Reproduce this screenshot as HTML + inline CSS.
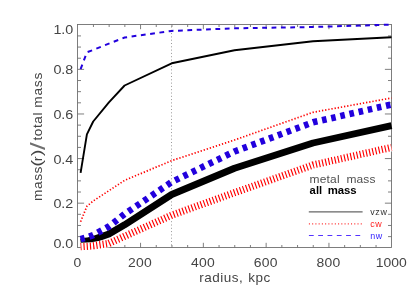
<!DOCTYPE html>
<html><head><meta charset="utf-8"><title>mass profile</title>
<style>html,body{margin:0;padding:0;background:#fff}svg{display:block;will-change:transform}text{font-family:"Liberation Sans",sans-serif}</style>
</head><body>
<svg width="415" height="297" viewBox="0 0 415 297">
<rect width="415" height="297" fill="#fff"/>
<line x1="171.5" y1="26.5" x2="171.5" y2="247.5" stroke="#999" stroke-width="1" stroke-dasharray="1 2.3"/>
<g stroke="#707070" stroke-width="0.9" fill="none">
<rect x="77.5" y="24.5" width="314.0" height="223.0"/>
<path d="M93.45 247.5v-2.5M93.45 24.5v2.5M109.15 247.5v-2.5M109.15 24.5v2.5M124.85 247.5v-2.5M124.85 24.5v2.5M140.55 247.5v-4.7M140.55 24.5v4.7M156.25 247.5v-2.5M156.25 24.5v2.5M171.95 247.5v-2.5M171.95 24.5v2.5M187.65 247.5v-2.5M187.65 24.5v2.5M203.35 247.5v-4.7M203.35 24.5v4.7M219.05 247.5v-2.5M219.05 24.5v2.5M234.75 247.5v-2.5M234.75 24.5v2.5M250.45 247.5v-2.5M250.45 24.5v2.5M266.15 247.5v-4.7M266.15 24.5v4.7M281.85 247.5v-2.5M281.85 24.5v2.5M297.55 247.5v-2.5M297.55 24.5v2.5M313.25 247.5v-2.5M313.25 24.5v2.5M328.95 247.5v-4.7M328.95 24.5v4.7M344.65 247.5v-2.5M344.65 24.5v2.5M360.35 247.5v-2.5M360.35 24.5v2.5M376.05 247.5v-2.5M376.05 24.5v2.5M77.5 236.62h3.5M391.5 236.62h-3.5M77.5 225.47h3.5M391.5 225.47h-3.5M77.5 214.32h3.5M391.5 214.32h-3.5M77.5 203.17h6.6M391.5 203.17h-6.6M77.5 192.02h3.5M391.5 192.02h-3.5M77.5 180.87h3.5M391.5 180.87h-3.5M77.5 169.72h3.5M391.5 169.72h-3.5M77.5 158.57h6.6M391.5 158.57h-6.6M77.5 147.42h3.5M391.5 147.42h-3.5M77.5 136.27h3.5M391.5 136.27h-3.5M77.5 125.12h3.5M391.5 125.12h-3.5M77.5 113.97h6.6M391.5 113.97h-6.6M77.5 102.82h3.5M391.5 102.82h-3.5M77.5 91.67h3.5M391.5 91.67h-3.5M77.5 80.52h3.5M391.5 80.52h-3.5M77.5 69.37h6.6M391.5 69.37h-6.6M77.5 58.22h3.5M391.5 58.22h-3.5M77.5 47.07h3.5M391.5 47.07h-3.5M77.5 35.92h3.5M391.5 35.92h-3.5"/>
</g>
<g fill="none" stroke-linejoin="round">
<path d="M80.6 221.7 L86.9 206.2 L93.2 201.0 L108.9 190.7 L124.6 180.4 L171.7 160.6 L234.5 140.0 L313.0 112.3 L391.5 98.0" stroke="#f00" stroke-width="1.7" stroke-dasharray="1.3 1.9"/>
<path d="M80.6 172.8 L86.9 134.4 L93.2 121.5 L108.9 102.3 L124.6 85.5 L171.7 63.3 L234.5 50.3 L313.0 41.3 L391.5 37.2" stroke="#000" stroke-width="1.9"/>
<path d="M80.6 69.1 L86.9 52.3 L93.2 49.9 L108.9 43.6 L124.6 37.5 L171.7 30.9 L234.5 28.3 L313.0 27.0 L391.5 24.6" stroke="#2200dd" stroke-width="2" stroke-dasharray="4.8 4.56"/>
<path d="M80.6 241.8 L86.9 241.0 L93.2 239.5 L108.9 234.0 L124.6 224.8 L171.7 194.5 L234.5 168.2 L313.0 143.0 L391.5 125.6" stroke="#000" stroke-width="6.9"/>
<path d="M80.6 246.7 L86.9 246.3 L93.2 245.8 L108.9 243.4 L124.6 236.3 L171.7 215.2 L234.5 192.7 L313.0 165.0 L391.5 147.4" stroke="#fff" stroke-width="7.8"/>
<path d="M80.6 246.7 L86.9 246.3 L93.2 245.8 L108.9 243.4 L124.6 236.3 L171.7 215.2 L234.5 192.7 L313.0 165.0 L391.5 147.4" stroke="#f00" stroke-width="7.2" stroke-dasharray="1.15 2.062" stroke-dashoffset="0.3"/>
<path d="M80.6 239.2 L86.9 237.4 L93.2 235.2 L108.9 226.5 L124.6 214.0 L171.7 182.0 L234.5 151.5 L313.0 122.3 L391.5 104.5" stroke="#2200dd" stroke-width="6.6" stroke-dasharray="4.6 4.76" stroke-dashoffset="0.4"/>
</g>
<text transform="translate(73.4 266.5) scale(1.040 1)" font-size="13.4" fill="#444" textLength="7.31" lengthAdjust="spacing">0</text>
<text transform="translate(128.1 266.5) scale(1.040 1)" font-size="13.4" fill="#444" textLength="22.88" lengthAdjust="spacing">200</text>
<text transform="translate(190.9 266.5) scale(1.040 1)" font-size="13.4" fill="#444" textLength="22.88" lengthAdjust="spacing">400</text>
<text transform="translate(253.7 266.5) scale(1.040 1)" font-size="13.4" fill="#444" textLength="22.88" lengthAdjust="spacing">600</text>
<text transform="translate(316.5 266.5) scale(1.040 1)" font-size="13.4" fill="#444" textLength="22.88" lengthAdjust="spacing">800</text>
<text transform="translate(375.7 266.5) scale(1.040 1)" font-size="13.4" fill="#444" textLength="29.81" lengthAdjust="spacing">1000</text>
<text transform="translate(53.4 247.6) scale(1.070 1)" font-size="13.4" fill="#444" textLength="18.60" lengthAdjust="spacing">0.0</text>
<text transform="translate(53.4 208.2) scale(1.070 1)" font-size="13.4" fill="#444" textLength="18.60" lengthAdjust="spacing">0.2</text>
<text transform="translate(53.4 163.6) scale(1.070 1)" font-size="13.4" fill="#444" textLength="18.60" lengthAdjust="spacing">0.4</text>
<text transform="translate(53.4 119.0) scale(1.070 1)" font-size="13.4" fill="#444" textLength="18.60" lengthAdjust="spacing">0.6</text>
<text transform="translate(53.4 74.4) scale(1.070 1)" font-size="13.4" fill="#444" textLength="18.60" lengthAdjust="spacing">0.8</text>
<text transform="translate(53.4 33.9) scale(1.070 1)" font-size="13.4" fill="#444" textLength="18.60" lengthAdjust="spacing">1.0</text>
<text transform="translate(199.2 281.8) scale(1.080 1)" font-size="12.5" fill="#444" textLength="40.37" lengthAdjust="spacing">radius,</text>
<text transform="translate(248.2 281.8) scale(1.080 1)" font-size="12.5" fill="#444" textLength="20.37" lengthAdjust="spacing">kpc</text>
<text transform="translate(42.0 200.9) rotate(-90) scale(1.100 1)" font-size="12.5" fill="#444" textLength="31.27" lengthAdjust="spacing">mass</text>
<text transform="translate(42.0 166.8) rotate(-90) scale(1.35 1)" font-size="15" fill="#444">(</text>
<text transform="translate(42.0 161.2) rotate(-90) scale(1.15 1)" font-size="12.5" fill="#444">r</text>
<text transform="translate(42.0 156.2) rotate(-90) scale(1.35 1)" font-size="15" fill="#444">)</text>
<text transform="translate(45.3 149.9) rotate(-90) scale(1.36 1)" font-size="20.5" fill="#707070">/</text>
<text transform="translate(42.0 140.6) rotate(-90) scale(1.080 1)" font-size="12.5" fill="#444" textLength="25.93" lengthAdjust="spacing">total</text>
<text transform="translate(42.0 107.8) rotate(-90) scale(1.100 1)" font-size="12.5" fill="#444" textLength="32.00" lengthAdjust="spacing">mass</text>
<text transform="translate(309.6 182.7) scale(1.200 1)" font-size="10" fill="#505050" textLength="25.00" lengthAdjust="spacing">metal</text>
<text transform="translate(346.4 182.7) scale(1.200 1)" font-size="10" fill="#505050" textLength="24.17" lengthAdjust="spacing">mass</text>
<text transform="translate(309.6 193.8) scale(1.120 1)" font-size="10" fill="#000" font-weight="bold" textLength="11.25" lengthAdjust="spacing">all</text>
<text transform="translate(327.8 193.8) scale(1.140 1)" font-size="10" fill="#000" font-weight="bold" textLength="25.35" lengthAdjust="spacing">mass</text>
<line x1="308.8" y1="211.9" x2="362.6" y2="211.9" stroke="#666" stroke-width="1.1"/>
<line x1="308.9" y1="223.9" x2="362.8" y2="223.9" stroke="#f33" stroke-width="1.2" stroke-dasharray="1.05 2.19"/>
<line x1="308.9" y1="235.55" x2="360.5" y2="235.55" stroke="#5533ff" stroke-width="1.1" stroke-dasharray="4.8 4.5"/>
<text transform="translate(370.2 214.6) scale(0.940 1)" font-size="9.5" fill="#333" textLength="17.87" lengthAdjust="spacing">vzw</text>
<text transform="translate(370.2 227.0) scale(0.940 1)" font-size="9.5" fill="#f22" textLength="12.34" lengthAdjust="spacing">cw</text>
<text transform="translate(370.2 238.8) scale(0.940 1)" font-size="9.5" fill="#32f" textLength="12.77" lengthAdjust="spacing">nw</text>
</svg>
</body></html>
